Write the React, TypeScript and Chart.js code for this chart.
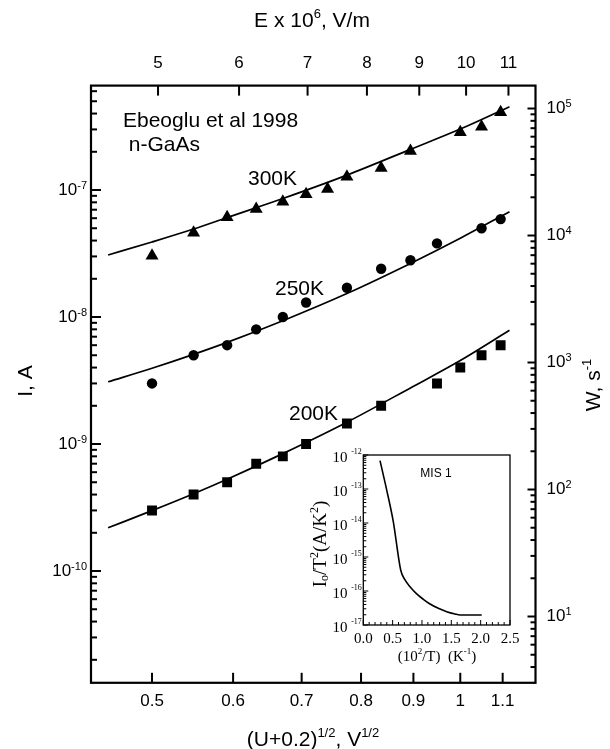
import React, { useEffect, useRef } from 'react';
import { Chart, registerables } from 'chart.js';
Chart.register(...registerables);

// ---- data ----
const x300 = [0.5, 0.549, 0.592, 0.632, 0.671, 0.707, 0.742, 0.775, 0.837, 0.894, 1.0, 1.049, 1.095];
const i300 = [3.04e-8, 4.6e-8, 6.1e-8, 7.1e-8, 8.1e-8, 9.25e-8, 1.02e-7, 1.27e-7, 1.49e-7, 2.03e-7, 2.85e-7, 3.15e-7, 4.1e-7];

const x250 = [0.5, 0.549, 0.592, 0.632, 0.671, 0.707, 0.775, 0.837, 0.894, 0.949, 1.049, 1.095];
const i250 = [3.0e-9, 5.0e-9, 6.0e-9, 8.0e-9, 1.0e-8, 1.3e-8, 1.7e-8, 2.4e-8, 2.8e-8, 3.8e-8, 5.0e-8, 5.9e-8];

const x200 = [0.5, 0.549, 0.592, 0.632, 0.671, 0.707, 0.775, 0.837, 0.949, 1.0, 1.049, 1.095];
const i200 = [3.0e-10, 4.0e-10, 5.0e-10, 7.0e-10, 8.0e-10, 1.0e-9, 1.45e-9, 2.0e-9, 3.0e-9, 4.0e-9, 5.0e-9, 6.0e-9];

const fitX = [0.453, 0.5, 0.549, 0.592, 0.671, 0.775, 0.894, 1.0, 1.117];
const fit300 = [3.08e-8, 3.9e-8, 4.93e-8, 6.07e-8, 8.57e-8, 1.31e-7, 2.09e-7, 3.02e-7, 4.53e-7];
const fit250 = [3.09e-9, 3.95e-9, 5.08e-9, 6.31e-9, 9.35e-9, 1.53e-8, 2.64e-8, 4.17e-8, 6.75e-8];
const fit200 = [2.19e-10, 2.99e-10, 4.06e-10, 5.28e-10, 8.4e-10, 1.485e-9, 2.765e-9, 4.54e-9, 7.86e-9];

const bottomTicks = [0.5, 0.6, 0.7, 0.8, 0.9, 1, 1.1];
const bottomTickLabels = ['0.5', '0.6', '0.7', '0.8', '0.9', '1', '1.1'];
const topTicks = [5, 6, 7, 8, 9, 10, 11];
const topTickLabels = ['5', '6', '7', '8', '9', '10', '11'];
const leftDecades = [-7, -8, -9, -10];
const rightDecades = [1, 2, 3, 4, 5];

const insetX = [0.285, 0.399, 0.511, 0.637, 0.711, 0.796, 0.91, 1.023, 1.137, 1.278, 1.421, 1.563, 1.648, 2.018];
const insetY = [6.8e-13, 9.3e-14, 1.1e-14, 4.15e-16, 2.11e-16, 1.34e-16, 8.2e-17, 5.7e-17, 4.15e-17, 3.1e-17, 2.47e-17, 2.11e-17, 1.97e-17, 1.97e-17];
const insetXTicks = [0, 0.5, 1.0, 1.5, 2.0, 2.5];
const insetXTickLabels = ['0.0', '0.5', '1.0', '1.5', '2.0', '2.5'];
const insetDecades = [-12, -13, -14, -15, -16, -17];

const SANS = '"Liberation Sans", Arial, sans-serif';
const SERIF = '"Liberation Serif", "Times New Roman", serif';

type Part = { t: string; s?: 'sup' | 'sub' };

function drawRich(
  ctx: CanvasRenderingContext2D,
  parts: Part[],
  x: number,
  y: number,
  align: 'left' | 'center' | 'right',
  size: number,
  fam: string,
  supSize: number,
  rise: number,
  drop = 4
) {
  const widths = parts.map((p) => {
    ctx.font = `${p.s ? supSize : size}px ${fam}`;
    return ctx.measureText(p.t).width;
  });
  const total = widths.reduce((a, b) => a + b, 0);
  let cx = align === 'left' ? x : align === 'right' ? x - total : x - total / 2;
  ctx.textAlign = 'left';
  ctx.textBaseline = 'middle';
  parts.forEach((p, i) => {
    ctx.font = `${p.s ? supSize : size}px ${fam}`;
    const yy = p.s === 'sup' ? y - rise : p.s === 'sub' ? y + drop : y;
    ctx.fillText(p.t, cx, yy);
    cx += widths[i];
  });
}

function seg(ctx: CanvasRenderingContext2D, x1: number, y1: number, x2: number, y2: number) {
  ctx.beginPath();
  ctx.moveTo(x1, y1);
  ctx.lineTo(x2, y2);
  ctx.stroke();
}

const mainDecor = {
  id: 'mainDecor',
  afterDraw(chart: any) {
    const ctx: CanvasRenderingContext2D = chart.ctx;
    const { left, right, top, bottom } = chart.chartArea;
    const sx = chart.scales.x, sx2 = chart.scales.x2, sy = chart.scales.y, sy2 = chart.scales.y2;
    ctx.save();
    ctx.strokeStyle = '#000';
    ctx.fillStyle = '#000';
    ctx.lineWidth = 2.2;
    ctx.strokeRect(left, top, right - left, bottom - top);
    ctx.lineWidth = 2;
    for (let e = -12; e <= -6; e++) {
      for (let k = 1; k <= 9; k++) {
        const v = k * Math.pow(10, e);
        if (v < sy.min || v > sy.max) continue;
        const y = sy.getPixelForValue(v);
        seg(ctx, left, y, left + (k === 1 ? 10 : 6), y);
      }
    }
    for (let e = 0; e <= 5; e++) {
      for (let k = 1; k <= 9; k++) {
        const v = k * Math.pow(10, e);
        if (v < sy2.min || v > sy2.max) continue;
        const y = sy2.getPixelForValue(v);
        seg(ctx, right, y, right - (k === 1 ? 8 : 5), y);
      }
    }
    bottomTicks.forEach((v, i) => {
      const x = sx.getPixelForValue(v);
      seg(ctx, x, bottom, x, bottom - 10);
      ctx.font = `17px ${SANS}`;
      ctx.textAlign = 'center';
      ctx.textBaseline = 'middle';
      ctx.fillText(bottomTickLabels[i], x, 701.5);
    });
    topTicks.forEach((v, i) => {
      const x = sx2.getPixelForValue(v);
      seg(ctx, x, top, x, top + 10);
      ctx.font = `17px ${SANS}`;
      ctx.textAlign = 'center';
      ctx.textBaseline = 'middle';
      ctx.fillText(topTickLabels[i], x, 63);
    });
    leftDecades.forEach((e) => {
      const y = sy.getPixelForValue(Math.pow(10, e));
      drawRich(ctx, [{ t: '10' }, { t: String(e), s: 'sup' }], 87, y, 'right', 17, SANS, 11, 4.5);
    });
    rightDecades.forEach((e) => {
      const y = sy2.getPixelForValue(Math.pow(10, e));
      drawRich(ctx, [{ t: '10' }, { t: String(e), s: 'sup' }], 546.5, y, 'left', 17, SANS, 11, 4.5);
    });
    drawRich(ctx, [{ t: 'E x 10' }, { t: '6', s: 'sup' }, { t: ', V/m' }], 312, 21, 'center', 21, SANS, 13, 7);
    drawRich(ctx, [{ t: '(U+0.2)' }, { t: '1/2', s: 'sup' }, { t: ', V' }, { t: '1/2', s: 'sup' }], 313, 740, 'center', 21, SANS, 13, 7);
    ctx.save();
    ctx.translate(26, 381);
    ctx.rotate(-Math.PI / 2);
    drawRich(ctx, [{ t: 'I, A' }], 0, 0, 'center', 21, SANS, 13, 7);
    ctx.restore();
    ctx.save();
    ctx.translate(594, 385);
    ctx.rotate(-Math.PI / 2);
    drawRich(ctx, [{ t: 'W, s' }, { t: '-1', s: 'sup' }], 0, 0, 'center', 21, SANS, 13, 7);
    ctx.restore();
    const ann: [string, number, number][] = [
      ['Ebeoglu et al 1998', 123, 121],
      [' n-GaAs', 123, 145],
      ['300K', 248, 179.5],
      ['250K', 275, 289],
      ['200K', 289, 414.5],
    ];
    ctx.font = `21px ${SANS}`;
    ctx.textAlign = 'left';
    ctx.textBaseline = 'middle';
    ann.forEach(([t, x, y]) => ctx.fillText(t, x, y));
    ctx.restore();
  },
};

const insetDecor = {
  id: 'insetDecor',
  afterDraw(chart: any) {
    const ctx: CanvasRenderingContext2D = chart.ctx;
    const { left, right, top, bottom } = chart.chartArea;
    const sx = chart.scales.x, sy = chart.scales.y;
    ctx.save();
    ctx.strokeStyle = '#000';
    ctx.fillStyle = '#000';
    ctx.lineWidth = 1.3;
    ctx.strokeRect(left, top, right - left, bottom - top);
    ctx.lineWidth = 1;
    for (let e = -17; e <= -12; e++) {
      for (let k = 1; k <= 9; k++) {
        const v = k * Math.pow(10, e);
        if (v < sy.min * 0.999 || v > sy.max * 1.001) continue;
        const y = sy.getPixelForValue(v);
        seg(ctx, left, y, left + (k === 1 ? 5 : 3), y);
      }
    }
    for (let i = 0; i <= 25; i++) {
      const x = sx.getPixelForValue(i / 10);
      seg(ctx, x, bottom, x, bottom - (i % 5 === 0 ? 5 : 3));
    }
    insetXTicks.forEach((v, i) => {
      const x = sx.getPixelForValue(v);
      ctx.font = `15px ${SERIF}`;
      ctx.textAlign = 'center';
      ctx.textBaseline = 'middle';
      ctx.fillText(insetXTickLabels[i], x, 199);
    });
    insetDecades.forEach((e) => {
      const y = sy.getPixelForValue(Math.pow(10, e));
      drawRich(ctx, [{ t: '10 ' }, { t: String(e), s: 'sup' }], left - 1.5, y + 3, 'right', 15, SERIF, 8, 6);
    });
    drawRich(ctx, [{ t: '(10' }, { t: '2', s: 'sup' }, { t: '/T)  (K' }, { t: '-1', s: 'sup' }, { t: ')' }], 137, 217, 'center', 15, SERIF, 9, 5);
    ctx.save();
    ctx.translate(21, 104);
    ctx.rotate(-Math.PI / 2);
    drawRich(ctx, [{ t: 'I' }, { t: 'o', s: 'sub' }, { t: '/T' }, { t: '2', s: 'sup' }, { t: '(A/K' }, { t: '2', s: 'sup' }, { t: ')' }], 0, 0, 'center', 19, SERIF, 12, 6, 4);
    ctx.restore();
    ctx.font = `12px ${SANS}`;
    ctx.textAlign = 'center';
    ctx.textBaseline = 'middle';
    ctx.fillText('MIS 1', 136, 33.5);
    ctx.restore();
  },
};

const noAxis = {
  ticks: { display: false },
  grid: { display: false, drawTicks: false },
  border: { display: false },
};

export default function App() {
  const mainRef = useRef<HTMLCanvasElement>(null);
  const insetRef = useRef<HTMLCanvasElement>(null);

  useEffect(() => {
    const pts = (xs: number[], ys: number[]) => xs.map((x, i) => ({ x, y: ys[i] }));
    const lineDs = (xs: number[], ys: number[]) => ({
      data: pts(xs, ys),
      showLine: true,
      borderColor: '#000',
      borderWidth: 1.7,
      pointRadius: 0,
      cubicInterpolationMode: 'monotone' as const,
      fill: false,
    });
    const markDs = (xs: number[], ys: number[], style: string, r: number) => ({
      data: pts(xs, ys),
      showLine: false,
      pointStyle: style,
      pointRadius: r,
      pointBackgroundColor: '#000',
      pointBorderColor: '#000',
      pointBorderWidth: 0,
    });

    const c1 = new Chart(mainRef.current as HTMLCanvasElement, {
      type: 'scatter',
      data: {
        datasets: [
          lineDs(fitX, fit300),
          lineDs(fitX, fit250),
          lineDs(fitX, fit200),
          markDs(x300, i300, 'triangle', 7.5),
          markDs(x250, i250, 'circle', 5.2),
          markDs(x200, i200, 'rect', 7),
        ] as any,
      },
      options: {
        animation: false,
        responsive: false,
        devicePixelRatio: 1,
        layout: { padding: 0, autoPadding: false } as any,
        plugins: { legend: { display: false }, tooltip: { enabled: false }, title: { display: false } },
        events: [],
        scales: {
          x: { type: 'logarithmic', position: 'bottom', min: 0.4359, max: 1.1843, ...noAxis, afterFit: (s: any) => { s.height = 66.2; } },
          x2: { type: 'logarithmic', position: 'top', min: 4.304, max: 11.69, ...noAxis, afterFit: (s: any) => { s.height = 85.6; } },
          y: { type: 'logarithmic', position: 'left', min: 1.318e-11, max: 6.64e-7, ...noAxis, afterFit: (s: any) => { s.width = 91; } },
          y2: { type: 'logarithmic', position: 'right', min: 3.006, max: 1.515e5, ...noAxis, afterFit: (s: any) => { s.width = 74.5; } },
        } as any,
      },
      plugins: [mainDecor],
    });

    const c2 = new Chart(insetRef.current as HTMLCanvasElement, {
      type: 'scatter',
      data: {
        datasets: [
          {
            data: pts(insetX, insetY),
            showLine: true,
            borderColor: '#000',
            borderWidth: 1.6,
            pointRadius: 0,
            cubicInterpolationMode: 'monotone',
          },
        ] as any,
      },
      options: {
        animation: false,
        responsive: false,
        devicePixelRatio: 1,
        layout: { padding: { top: 15, right: 15, left: 0, bottom: 0 }, autoPadding: false } as any,
        plugins: { legend: { display: false }, tooltip: { enabled: false } },
        events: [],
        scales: {
          x: { type: 'linear', position: 'bottom', min: 0, max: 2.5, ...noAxis, afterFit: (s: any) => { s.height = 45; } },
          y: { type: 'logarithmic', position: 'left', min: 1e-17, max: 1e-12, ...noAxis, afterFit: (s: any) => { s.width = 63.3; } },
        } as any,
      },
      plugins: [insetDecor],
    });

    return () => {
      c1.destroy();
      c2.destroy();
    };
  }, []);

  return (
    <div style={{ position: 'absolute', left: 0, top: 0, width: 610, height: 749, background: '#fff', overflow: 'hidden' }}>
      <canvas ref={mainRef} width={610} height={749} style={{ position: 'absolute', left: 0, top: 0, width: 610, height: 749 }} />
      <canvas ref={insetRef} width={225} height={230} style={{ position: 'absolute', left: 300, top: 440, width: 225, height: 230 }} />
    </div>
  );
}
